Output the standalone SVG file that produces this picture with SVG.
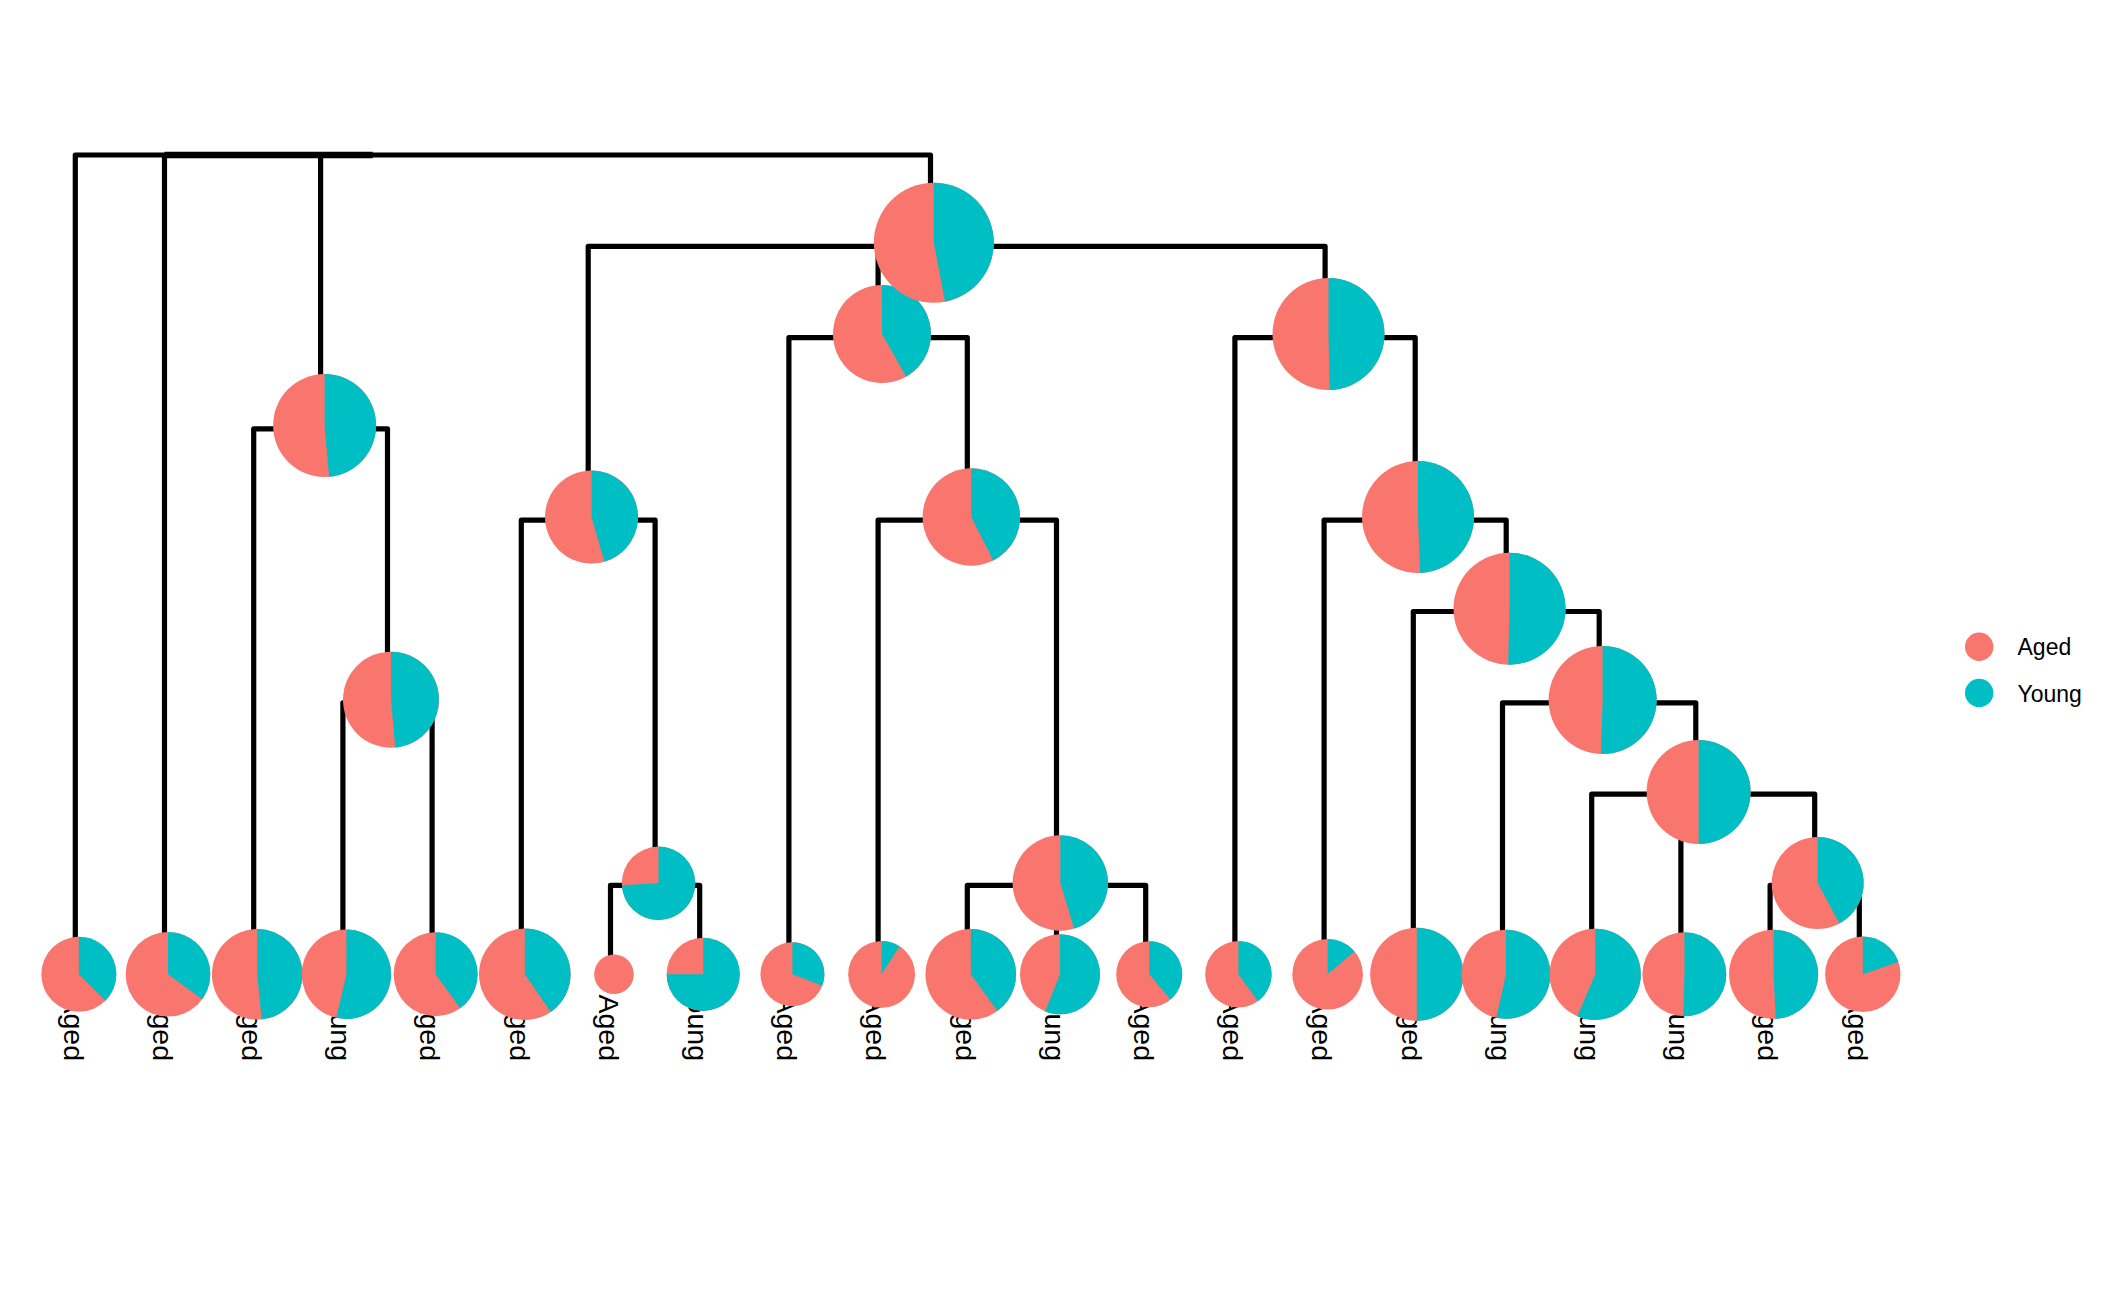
<svg xmlns="http://www.w3.org/2000/svg" width="2112" height="1305" viewBox="0 0 2112 1305">
<style>
.bg{fill:#ffffff}
.edge{fill:none;stroke:#000000;stroke-width:5.2;stroke-linejoin:round;stroke-linecap:butt}
.aged{fill:#F8766D}
.young{fill:#00BFC4}
.tip{font-family:"Liberation Sans",Arial,sans-serif;font-size:28.5px;fill:#000000;text-anchor:end}
.leg{font-family:"Liberation Sans",Arial,sans-serif;font-size:23px;fill:#000000}
</style>
<rect class="bg" x="0" y="0" width="2112" height="1305"/>
<g id="connectors">
<path class="edge" d="M75.3,976.7 V155 H930.5 V246.3 M164.5,155 V976.7 M320.6,155 V428.9"/>
<path class="edge" style="stroke-width:6.5" d="M164.5,155 H372.7"/>
<path class="edge" d="M253.7,976.7 V428.9 H387.5 V702.8"/>
<path class="edge" d="M342.9,976.7 V702.8 H432.1 V976.7"/>
<path class="edge" d="M588.2,520.2 V246.3 H1325.1 V337.6 M878.1,246.3 V337.6"/>
<path class="edge" d="M521.3,976.7 V520.2 H655.1 V885.4"/>
<path class="edge" d="M610.5,976.7 V885.4 H699.7 V976.7"/>
<path class="edge" d="M788.9,976.7 V337.6 H967.3 V520.2"/>
<path class="edge" d="M878.1,976.7 V520.2 H1056.5 V885.4"/>
<path class="edge" d="M967.3,976.7 V885.4 H1145.7 V976.7 M1056.5,885.4 V976.7"/>
<path class="edge" d="M1234.9,976.7 V337.6 H1415.2 V520.2"/>
<path class="edge" d="M1324.1,976.7 V520.2 H1506.2 V611.5"/>
<path class="edge" d="M1413.3,976.7 V611.5 H1599.2 V702.8"/>
<path class="edge" d="M1502.5,976.7 V702.8 H1695.8 V794.1"/>
<path class="edge" d="M1591.7,976.7 V794.1 H1814.7 V885.4 M1680.9,794.1 V976.7"/>
<path class="edge" d="M1770.1,976.7 V885.4 H1859.3 V976.7"/>
</g>
<g id="leaf0"><text class="tip" transform="translate(63.5,1061) rotate(90)">Aged</text><circle class="aged" cx="78.8" cy="974.3" r="37.5"/><path class="young" d="M78.8,974.3 L78.8,936.8 A37.5,37.5 0 0 1 105.32,1000.82 Z"/></g>
<g id="leaf1"><text class="tip" transform="translate(152.7,1061) rotate(90)">Aged</text><circle class="aged" cx="168" cy="974.3" r="42.3"/><path class="young" d="M168,974.3 L168,932 A42.3,42.3 0 0 1 202.22,999.16 Z"/></g>
<g id="leaf2"><text class="tip" transform="translate(241.9,1061) rotate(90)">Aged</text><circle class="aged" cx="257.2" cy="974.3" r="45.3"/><path class="young" d="M257.2,974.3 L257.2,929 A45.3,45.3 0 0 1 261.75,1019.37 Z"/></g>
<g id="leaf3"><text class="tip" transform="translate(331.1,1061) rotate(90)">Young</text><circle class="aged" cx="346.4" cy="974.3" r="44.7"/><path class="young" d="M346.4,974.3 L346.4,929.6 A44.7,44.7 0 1 1 336.37,1017.86 Z"/></g>
<g id="leaf4"><text class="tip" transform="translate(420.3,1061) rotate(90)">Aged</text><circle class="aged" cx="435.6" cy="974.3" r="42"/><path class="young" d="M435.6,974.3 L435.6,932.3 A42,42 0 0 1 460.29,1008.28 Z"/></g>
<g id="leaf5"><text class="tip" transform="translate(509.5,1061) rotate(90)">Aged</text><circle class="aged" cx="524.8" cy="974.3" r="45.8"/><path class="young" d="M524.8,974.3 L524.8,928.5 A45.8,45.8 0 0 1 550.78,1012.02 Z"/></g>
<g id="leaf6"><text class="tip" transform="translate(598.7,1061) rotate(90)">Aged</text><circle class="aged" cx="614" cy="974.3" r="19.8"/></g>
<g id="leaf7"><text class="tip" transform="translate(687.9,1061) rotate(90)">Young</text><circle class="aged" cx="703.2" cy="974.3" r="36.6"/><path class="young" d="M703.2,974.3 L703.2,937.7 A36.6,36.6 0 1 1 666.6,974.3 Z"/></g>
<g id="leaf8"><text class="tip" transform="translate(777.1,1061) rotate(90)">Aged</text><circle class="aged" cx="792.4" cy="974.3" r="32"/><path class="young" d="M792.4,974.3 L792.4,942.3 A32,32 0 0 1 822.3,985.7 Z"/></g>
<g id="leaf9"><text class="tip" transform="translate(866.3,1061) rotate(90)">Aged</text><circle class="aged" cx="881.6" cy="974.3" r="33.4"/><path class="young" d="M881.6,974.3 L881.6,940.9 A33.4,33.4 0 0 1 899.67,946.21 Z"/></g>
<g id="leaf10"><text class="tip" transform="translate(955.5,1061) rotate(90)">Aged</text><circle class="aged" cx="970.8" cy="974.3" r="45.3"/><path class="young" d="M970.8,974.3 L970.8,929 A45.3,45.3 0 0 1 997.43,1010.95 Z"/></g>
<g id="leaf11"><text class="tip" transform="translate(1044.7,1061) rotate(90)">Young</text><circle class="aged" cx="1060" cy="974.3" r="40"/><path class="young" d="M1060,974.3 L1060,934.3 A40,40 0 1 1 1045.04,1011.4 Z"/></g>
<g id="leaf12"><text class="tip" transform="translate(1133.9,1061) rotate(90)">Aged</text><circle class="aged" cx="1149.2" cy="974.3" r="33"/><path class="young" d="M1149.2,974.3 L1149.2,941.3 A33,33 0 0 1 1170.39,999.6 Z"/></g>
<g id="leaf13"><text class="tip" transform="translate(1223.1,1061) rotate(90)">Aged</text><circle class="aged" cx="1238.4" cy="974.3" r="33.2"/><path class="young" d="M1238.4,974.3 L1238.4,941.1 A33.2,33.2 0 0 1 1257.91,1001.16 Z"/></g>
<g id="leaf14"><text class="tip" transform="translate(1312.3,1061) rotate(90)">Aged</text><circle class="aged" cx="1327.6" cy="974.3" r="35.3"/><path class="young" d="M1327.6,974.3 L1327.6,939 A35.3,35.3 0 0 1 1354.51,951.45 Z"/></g>
<g id="leaf15"><text class="tip" transform="translate(1401.5,1061) rotate(90)">Aged</text><circle class="aged" cx="1416.8" cy="974.3" r="46.6"/><path class="young" d="M1416.8,974.3 L1416.8,927.7 A46.6,46.6 0 0 1 1416.8,1020.9 Z"/></g>
<g id="leaf16"><text class="tip" transform="translate(1490.7,1061) rotate(90)">Young</text><circle class="aged" cx="1506" cy="974.3" r="44.5"/><path class="young" d="M1506,974.3 L1506,929.8 A44.5,44.5 0 1 1 1496.29,1017.73 Z"/></g>
<g id="leaf17"><text class="tip" transform="translate(1579.9,1061) rotate(90)">Young</text><circle class="aged" cx="1595.2" cy="974.3" r="45.6"/><path class="young" d="M1595.2,974.3 L1595.2,928.7 A45.6,45.6 0 1 1 1577.35,1016.26 Z"/></g>
<g id="leaf18"><text class="tip" transform="translate(1669.1,1061) rotate(90)">Young</text><circle class="aged" cx="1684.4" cy="974.3" r="42"/><path class="young" d="M1684.4,974.3 L1684.4,932.3 A42,42 0 1 1 1683.35,1016.29 Z"/></g>
<g id="leaf19"><text class="tip" transform="translate(1758.3,1061) rotate(90)">Aged</text><circle class="aged" cx="1773.6" cy="974.3" r="44.6"/><path class="young" d="M1773.6,974.3 L1773.6,929.7 A44.6,44.6 0 0 1 1775.7,1018.85 Z"/></g>
<g id="leaf20"><text class="tip" transform="translate(1847.5,1061) rotate(90)">Aged</text><circle class="aged" cx="1862.8" cy="974.3" r="37.7"/><path class="young" d="M1862.8,974.3 L1862.8,936.6 A37.7,37.7 0 0 1 1898.43,961.98 Z"/></g>
<g id="nodeA"><circle class="aged" cx="324.6" cy="425.5" r="51.5"/><path class="young" d="M324.6,425.5 L324.6,374 A51.5,51.5 0 0 1 329.12,476.8 Z"/></g>
<g id="nodeB"><circle class="aged" cx="391" cy="699.7" r="48"/><path class="young" d="M391,699.7 L391,651.7 A48,48 0 0 1 395.21,747.51 Z"/></g>
<g id="nodeC"><circle class="aged" cx="591.5" cy="517" r="46.5"/><path class="young" d="M591.5,517 L591.5,470.5 A46.5,46.5 0 0 1 604.47,561.65 Z"/></g>
<g id="nodeF"><circle class="aged" cx="658.5" cy="883.3" r="36.7"/><path class="young" d="M658.5,883.3 L658.5,846.6 A36.7,36.7 0 1 1 621.85,885.14 Z"/></g>
<g id="nodeD"><circle class="aged" cx="882" cy="334" r="49"/><path class="young" d="M882,334 L882,285 A49,49 0 0 1 906.14,376.64 Z"/></g>
<g id="nodeG"><circle class="aged" cx="971.3" cy="517" r="48.7"/><path class="young" d="M971.3,517 L971.3,468.3 A48.7,48.7 0 0 1 993.26,560.47 Z"/></g>
<g id="nodeH"><circle class="aged" cx="1060.3" cy="883" r="47.7"/><path class="young" d="M1060.3,883 L1060.3,835.3 A47.7,47.7 0 0 1 1074.17,928.64 Z"/></g>
<g id="nodeE"><circle class="aged" cx="1328.5" cy="334" r="56"/><path class="young" d="M1328.5,334 L1328.5,278 A56,56 0 0 1 1329.55,389.99 Z"/></g>
<g id="nodeI"><circle class="aged" cx="1418" cy="517" r="56"/><path class="young" d="M1418,517 L1418,461 A56,56 0 0 1 1420.11,572.96 Z"/></g>
<g id="nodeJ"><circle class="aged" cx="1509.5" cy="608.7" r="56"/><path class="young" d="M1509.5,608.7 L1509.5,552.7 A56,56 0 1 1 1508.09,664.68 Z"/></g>
<g id="nodeK"><circle class="aged" cx="1602.6" cy="700" r="54"/><path class="young" d="M1602.6,700 L1602.6,646 A54,54 0 1 1 1600.9,753.97 Z"/></g>
<g id="nodeL"><circle class="aged" cx="1698.6" cy="792" r="52"/><path class="young" d="M1698.6,792 L1698.6,740 A52,52 0 0 1 1698.6,844 Z"/></g>
<g id="nodeM"><circle class="aged" cx="1817.7" cy="883" r="46"/><path class="young" d="M1817.7,883 L1817.7,837 A46,46 0 0 1 1839.44,923.54 Z"/></g>
<g id="nodeR"><circle class="aged" cx="933.8" cy="242.7" r="60"/><path class="young" d="M933.8,242.7 L933.8,182.7 A60,60 0 0 1 945.04,301.64 Z"/></g>
<g id="legend">
<circle class="aged" cx="1979.2" cy="646.8" r="14.2"/>
<text class="leg" x="2017.5" y="655">Aged</text>
<circle class="young" cx="1979.2" cy="693" r="14.2"/>
<text class="leg" x="2017.5" y="701.7">Young</text>
</g>
</svg>
